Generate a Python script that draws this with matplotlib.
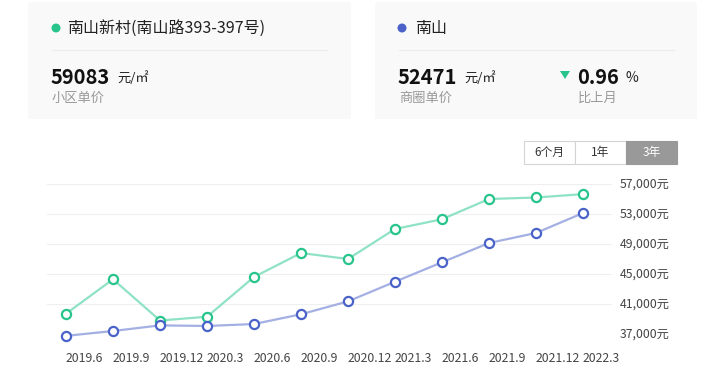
import matplotlib
matplotlib.use("Agg")
import matplotlib.pyplot as plt
from matplotlib.patches import FancyBboxPatch, Rectangle, Ellipse, Polygon
from matplotlib.lines import Line2D

plt.rcParams['font.family'] = ['Noto Sans CJK SC', 'DejaVu Sans']

# ---- data ----
x_labels = ["2019.6", "2019.9", "2019.12", "2020.3", "2020.6", "2020.9",
            "2020.12", "2021.3", "2021.6", "2021.9", "2021.12", "2022.3"]
community = [39700, 44300, 38800, 39300, 44600, 47800,
             47000, 51000, 52300, 55000, 55200, 55650]
district = [36750, 37400, 38150, 38070, 38330, 39630,
            41350, 43970, 46560, 49130, 50470, 53130]
y_ticks = [37000, 41000, 45000, 49000, 53000, 57000]
community_name = "南山新村(南山路393-397号)"
district_name = "南山"
community_price = "59083"
district_price = "52471"
change_pct = "0.96"
buttons = ["6个月", "1年", "3年"]

W, H = 721, 391
fig = plt.figure(figsize=(W / 100, H / 100), dpi=100)
fig.patch.set_facecolor("white")

def fx(x): return x / W
def fy(y): return 1 - y / H

def ftext(x, y, s, **kw):
    fig.text(fx(x), fy(y), s, **kw)

# ---- cards ----
for (x0, x1) in [(28, 351), (375, 697)]:
    fig.patches.append(FancyBboxPatch((fx(x0), fy(119)), fx(x1 - x0), (119 - 2) / H,
                                      boxstyle="round,pad=0,rounding_size=0.004",
                                      transform=fig.transFigure, facecolor="#f9f9fa",
                                      edgecolor="none", zorder=0))

green_m = "#27c48c"
green_l = "#8fe2c4"
blue_m = "#4b63c8"
blue_l = "#a4b0e3"

def dot(x, y, c):
    fig.patches.append(Ellipse((fx(x), fy(y)), 9 / W, 9 / H, transform=fig.transFigure,
                               facecolor=c, edgecolor="none"))

# card 1
dot(56, 28, green_m)
ftext(67, 28, community_name, fontsize=11.5, color="#222222", va="center", ha="left")
fig.lines.append(Line2D([fx(52), fx(327)], [fy(50), fy(50)], transform=fig.transFigure,
                        color="#ececec", lw=0.8))
ftext(51, 77, community_price, fontsize=14.5, fontweight="bold", color="#111111",
      va="center", ha="left")
ftext(117, 78, "元/㎡", fontsize=9.5, color="#222222", va="center", ha="left")
ftext(52, 98, "小区单价", fontsize=9.5, color="#999999", va="center", ha="left")

# card 2
dot(402, 28, blue_m)
ftext(415, 28, district_name, fontsize=11.5, color="#222222", va="center", ha="left")
fig.lines.append(Line2D([fx(399), fx(674)], [fy(50), fy(50)], transform=fig.transFigure,
                        color="#ececec", lw=0.8))
ftext(398, 77, district_price, fontsize=14.5, fontweight="bold", color="#111111",
      va="center", ha="left")
ftext(464, 78, "元/㎡", fontsize=9.5, color="#222222", va="center", ha="left")
ftext(399, 98, "商圈单价", fontsize=9.5, color="#999999", va="center", ha="left")
fig.patches.append(Polygon([(fx(560), fy(71)), (fx(570), fy(71)), (fx(565), fy(79))],
                           closed=True, transform=fig.transFigure,
                           facecolor=green_m, edgecolor="none"))
ftext(577, 77, change_pct, fontsize=14.5, fontweight="bold", color="#111111",
      va="center", ha="left")
ftext(625, 78, "%", fontsize=10, color="#222222", va="center", ha="left")
ftext(578, 98, "比上月", fontsize=9.5, color="#999999", va="center", ha="left")

# ---- buttons ----
bx = [524, 575, 626, 677]
for i, lab in enumerate(buttons):
    sel = (i == len(buttons) - 1)
    fig.patches.append(Rectangle((fx(bx[i]), fy(164)), fx(bx[i + 1] - bx[i]), 23 / H,
                                 transform=fig.transFigure,
                                 facecolor="#999999" if sel else "white",
                                 edgecolor="#999999" if sel else "#d4d4d4", lw=0.8))
    ftext((bx[i] + bx[i + 1]) / 2, 152.5, lab, fontsize=8.5,
          color="white" if sel else "#333333", ha="center", va="center")

# ---- chart ----
ax = fig.add_axes([fx(47), fy(334), fx(612 - 47), 150 / H])
xs = list(range(len(x_labels)))
ax.set_xlim(-0.404, 11.617)
ax.set_ylim(37000, 57000)
for t in y_ticks:
    ax.axhline(t, color="#efefef", lw=0.8, zorder=0)
ax.plot(xs, community, color=green_l, lw=1.6, zorder=2, clip_on=False)
ax.plot(xs, community, ls="none", marker="o", markersize=6.6, markerfacecolor="white",
        markeredgecolor=green_m, markeredgewidth=1.6, zorder=3, clip_on=False)
ax.plot(xs, district, color=blue_l, lw=1.6, zorder=2, clip_on=False)
ax.plot(xs, district, ls="none", marker="o", markersize=6.6, markerfacecolor="white",
        markeredgecolor=blue_m, markeredgewidth=1.6, zorder=3, clip_on=False)

for s in ax.spines.values():
    s.set_visible(False)
ax.set_xticks([])
ax.set_yticks([])
ax.set_facecolor("none")

for t in y_ticks:
    ax.text(1.0 + 8 / 565, t, f"{t:,}元", transform=ax.get_yaxis_transform(),
            fontsize=8.8, color="#444444", ha="left", va="center")

for i, lab in enumerate(x_labels):
    ax.text(i, -24 / 150, lab, transform=ax.get_xaxis_transform(), fontsize=8.8,
            color="#444444", ha="left", va="center")

fig.savefig("out.png", dpi=100, facecolor="white")
